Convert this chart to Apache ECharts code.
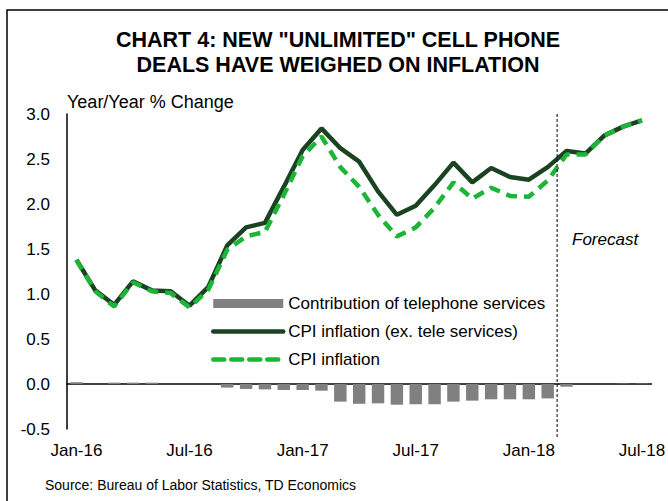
<!DOCTYPE html>
<html>
<head>
<meta charset="utf-8">
<script src="https://cdn.jsdelivr.net/npm/echarts@6/dist/echarts.min.js"></script>
<style>html,body{margin:0;padding:0;background:#fff}#c{width:668px;height:501px}</style>
</head>
<body>
<div id="c"></div>
<script>
var categories = ['Jan-16','Feb-16','Mar-16','Apr-16','May-16','Jun-16','Jul-16','Aug-16','Sep-16','Oct-16','Nov-16','Dec-16',
  'Jan-17','Feb-17','Mar-17','Apr-17','May-17','Jun-17','Jul-17','Aug-17','Sep-17','Oct-17','Nov-17','Dec-17',
  'Jan-18','Feb-18','Mar-18','Apr-18','May-18','Jun-18','Jul-18'];
var teleContribution = [0.02,0,0.015,0.015,0.015,0,0,0,-0.04,-0.055,-0.06,-0.067,
  -0.067,-0.074,-0.196,-0.22,-0.215,-0.23,-0.225,-0.225,-0.196,-0.185,-0.17,-0.17,
  -0.17,-0.16,-0.03,0,0,0.005,0.005];
var cpiExTele = [1.38,1.04,0.88,1.14,1.04,1.03,0.87,1.08,1.54,1.74,1.79,2.19,
  2.60,2.84,2.62,2.47,2.14,1.88,1.98,2.21,2.46,2.24,2.40,2.30,
  2.27,2.41,2.59,2.56,2.76,2.86,2.93];
var cpi = [1.38,1.03,0.86,1.13,1.03,1.01,0.85,1.05,1.49,1.64,1.69,2.10,
  2.53,2.75,2.41,2.19,1.88,1.64,1.74,1.96,2.24,2.06,2.18,2.09,
  2.08,2.26,2.55,2.55,2.76,2.86,2.93];
var yTicks = [-0.5, 0, 0.5, 1.0, 1.5, 2.0, 2.5, 3.0];
var xLabelMonths = ['Jan-16','Jul-16','Jan-17','Jul-17','Jan-18','Jul-18'];
var forecastStart = ['Feb-18','Mar-18'];

var FONT = 'Arial, "Liberation Sans", Helvetica, sans-serif';
var DARK = '#1b4322', BRIGHT = '#1db538';
var chart = echarts.init(document.getElementById('c'), null, {renderer: 'svg'});
var option = {
  animation: false,
  backgroundColor: '#fff',
  grid: {left: 67, right: 11, top: 114, bottom: 72, containLabel: false},
  legend: {
    orient: 'vertical', left: 211, top: 295, padding: 0, itemWidth: 70, itemHeight: 9, itemGap: 11,
    textStyle: {fontFamily: FONT, fontSize: 17, color: '#000', lineHeight: 17},
    data: [
      {name: 'Contribution of telephone services', icon: 'rect'},
      {name: 'CPI inflation (ex. tele services)', icon: 'inherit',
        itemStyle: {opacity: 0},
        lineStyle: {width: 4.5, color: DARK, cap: 'round'}},
      {name: 'CPI inflation', icon: 'inherit',
        itemStyle: {opacity: 0},
        lineStyle: {width: 4.5, color: BRIGHT, type: [11, 7], cap: 'round'}}
    ]
  },
  xAxis: {
    type: 'category', data: categories, boundaryGap: true,
    axisLine: {onZero: true, lineStyle: {color: '#000', width: 1.5}},
    axisTick: {show: false},
    axisLabel: {
      interval: 0, margin: 13, fontFamily: FONT, fontSize: 17, color: '#000',
      formatter: function (v) { return xLabelMonths.indexOf(v) >= 0 ? v : ''; }
    },
    splitLine: {show: false}
  },
  yAxis: {
    type: 'value', min: yTicks[0], max: yTicks[yTicks.length - 1], interval: 0.5,
    axisLine: {show: true, onZero: false, lineStyle: {color: '#000', width: 1.5}},
    axisTick: {show: false},
    splitLine: {show: false},
    axisLabel: {margin: 17, fontFamily: FONT, fontSize: 17, color: '#000',
      formatter: function (v) { return v.toFixed(1); }}
  },
  series: [
    {name: 'Contribution of telephone services', type: 'bar', data: teleContribution,
      barWidth: '66%', itemStyle: {color: '#808080'}, z: 1},
    {name: 'CPI inflation (ex. tele services)', type: 'line', data: cpiExTele,
      symbol: 'none', lineStyle: {color: DARK, width: 4.5}, itemStyle: {color: DARK}, z: 3},
    {name: 'CPI inflation', type: 'line', data: cpi,
      symbol: 'none', lineStyle: {color: BRIGHT, width: 4.5, type: [11, 7]}, itemStyle: {color: BRIGHT}, z: 4}
  ]
};
chart.setOption(option);

var xa = chart.convertToPixel({xAxisIndex: 0}, forecastStart[0]);
var xb = chart.convertToPixel({xAxisIndex: 0}, forecastStart[1]);
var fx = (xa + xb) / 2;
var yTop = chart.convertToPixel({yAxisIndex: 0}, yTicks[yTicks.length - 1]);
var yBot = chart.convertToPixel({yAxisIndex: 0}, yTicks[0]);

chart.setOption({
  graphic: [
    {type: 'rect', shape: {x: 7, y: 10, width: 700, height: 600}, style: {fill: 'none', stroke: '#000', lineWidth: 1.5}, silent: true, z: -1},
    {type: 'text', x: 338, y: 52.5, style: {text: 'CHART 4: NEW "UNLIMITED" CELL PHONE\nDEALS HAVE WEIGHED ON INFLATION',
      font: 'bold 21.5px ' + FONT, fill: '#000', textAlign: 'center', textVerticalAlign: 'middle', lineHeight: 25}},
    {type: 'text', x: 67, y: 102, style: {text: 'Year/Year % Change', font: '18px ' + FONT, fill: '#000', textAlign: 'left', textVerticalAlign: 'middle'}},
    {type: 'text', x: 572, y: 239, style: {text: 'Forecast', font: 'italic 17px ' + FONT, fill: '#000', textAlign: 'left', textVerticalAlign: 'middle'}},
    {type: 'text', x: 45, y: 485, style: {text: 'Source: Bureau of Labor Statistics, TD Economics', font: '14px ' + FONT, fill: '#000', textAlign: 'left', textVerticalAlign: 'middle'}},
    {type: 'line', shape: {x1: fx, y1: yTop, x2: fx, y2: yBot + 8}, style: {stroke: '#000', lineWidth: 1, lineDash: [3, 2]}, z: 10}
  ]
});
</script>
</body>
</html>
